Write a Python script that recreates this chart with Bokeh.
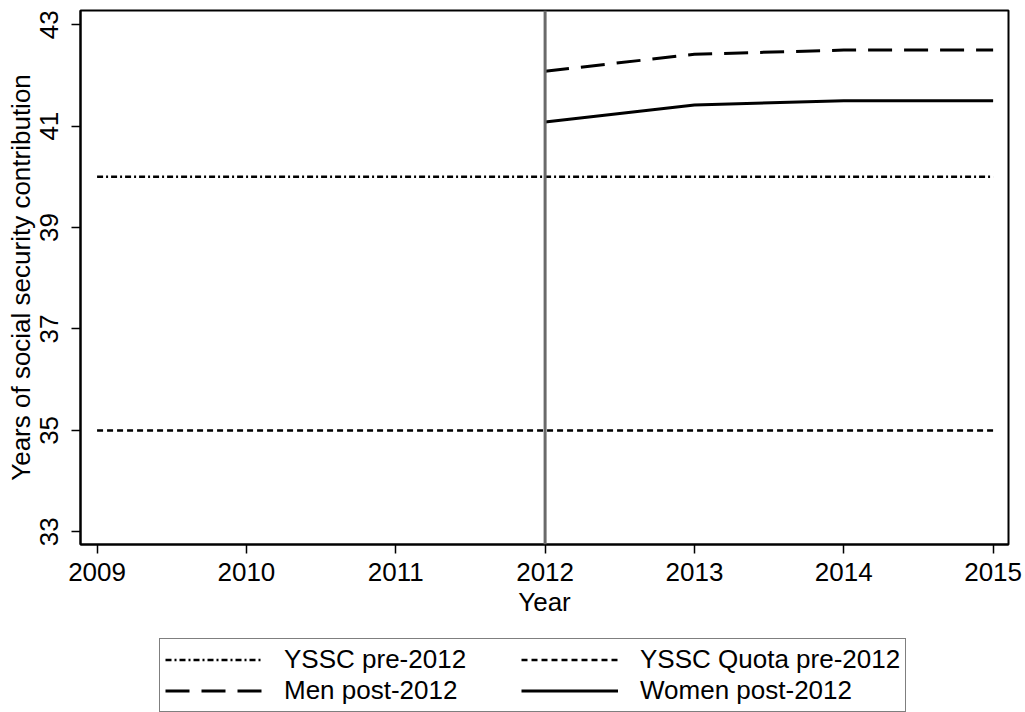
from bokeh.plotting import figure
from bokeh.models import Range1d, FixedTicker, Legend, LegendItem, Span
from bokeh.layouts import column
from bokeh.embed import file_html
from bokeh.resources import INLINE

# ---- data ----
years_pre = [2009, 2010, 2011, 2012, 2013, 2014, 2015]
yssc_pre = [40, 40, 40, 40, 40, 40, 40]
yssc_quota_pre = [35, 35, 35, 35, 35, 35, 35]
years_post = [2012, 2013, 2014, 2015]
men_post = [42.083, 42.417, 42.5, 42.5]
women_post = [41.083, 41.417, 41.5, 41.5]
reform_year = [2012]
x_ticks = [2009, 2010, 2011, 2012, 2013, 2014, 2015]
y_ticks = [33, 35, 37, 39, 41, 43]
labels = ["YSSC pre-2012", "YSSC Quota pre-2012", "Men post-2012", "Women post-2012"]

FONT = "Liberation Sans"
FS = "26px"

STYLES = [
    dict(line_color="black", line_width=2.5, line_dash="6 3 2 3"),
    dict(line_color="black", line_width=2.5, line_dash="6 4"),
    dict(line_color="black", line_width=3, line_dash="24 12"),
    dict(line_color="black", line_width=3),
]

p = figure(width=1025, height=630,
           x_range=Range1d(2008.889, 2015.103), y_range=Range1d(32.75, 43.28),
           output_backend="svg", toolbar_location=None,
           min_border_left=80, min_border_right=17, min_border_top=10, min_border_bottom=86)
p.background_fill_color = "white"
p.border_fill_color = "white"
p.outline_line_color = "black"
p.outline_line_width = 2
p.xgrid.visible = False
p.ygrid.visible = False

for ax in (p.xaxis[0], p.yaxis[0]):
    ax.axis_line_color = "black"
    ax.axis_line_width = 2
    ax.major_tick_line_color = "black"
    ax.major_tick_line_width = 1.5
    ax.major_tick_in = 0
    ax.major_tick_out = 9
    ax.minor_tick_line_color = None
    ax.major_label_text_font = FONT
    ax.major_label_text_font_size = FS
    ax.major_label_text_color = "black"
    ax.axis_label_text_font = FONT
    ax.axis_label_text_font_size = FS
    ax.axis_label_text_font_style = "normal"
    ax.axis_label_text_color = "black"

p.xaxis.ticker = FixedTicker(ticks=x_ticks)
p.yaxis.ticker = FixedTicker(ticks=y_ticks)
p.xaxis.axis_label = "Year"
p.yaxis.axis_label = "Years of social security contribution"
p.yaxis.major_label_orientation = "vertical"
p.xaxis.major_label_standoff = 9
p.xaxis.axis_label_standoff = 3
p.yaxis.major_label_standoff = 13
p.yaxis.axis_label_standoff = 2

p.add_layout(Span(location=reform_year[0], dimension="height",
                  line_color="#6a6a6a", line_width=3))

series = [(years_pre, yssc_pre), (years_pre, yssc_quota_pre),
          (years_post, men_post), (years_post, women_post)]
for (xs, ys), st in zip(series, STYLES):
    p.line(xs, ys, **st)

# legend panel (same series, drawn outside its visible range; only the key shows)
q = figure(width=1025, height=82, x_range=Range1d(0, 1), y_range=Range1d(0, 1),
           output_backend="svg", toolbar_location=None,
           x_axis_type=None, y_axis_type=None,
           min_border_left=0, min_border_right=0, min_border_top=0, min_border_bottom=0)
q.outline_line_color = None
q.background_fill_color = "white"
q.border_fill_color = "white"
q.xgrid.visible = False
q.ygrid.visible = False
rs = [q.line(xs, ys, **st) for (xs, ys), st in zip(series, STYLES)]

legend = Legend(items=[LegendItem(label=labels[0], renderers=[rs[0]]),
                       LegendItem(label=labels[2], renderers=[rs[2]]),
                       LegendItem(label=labels[1], renderers=[rs[1]]),
                       LegendItem(label=labels[3], renderers=[rs[3]])],
                orientation="vertical", ncols=2,
                location=(79, 0))
legend.label_text_font = FONT
legend.label_text_font_size = FS
legend.label_text_color = "black"
legend.border_line_color = "black"
legend.border_line_width = 1.5
legend.background_fill_color = "white"
legend.glyph_width = 97
legend.glyph_height = 31
legend.label_height = 31
legend.label_width = 237
legend.label_standoff = 22
legend.spacing = 0
legend.padding = 5
legend.margin = 0
q.add_layout(legend)

layout = column(p, q, spacing=0)
open("out.html", "w").write(file_html(layout, INLINE))
